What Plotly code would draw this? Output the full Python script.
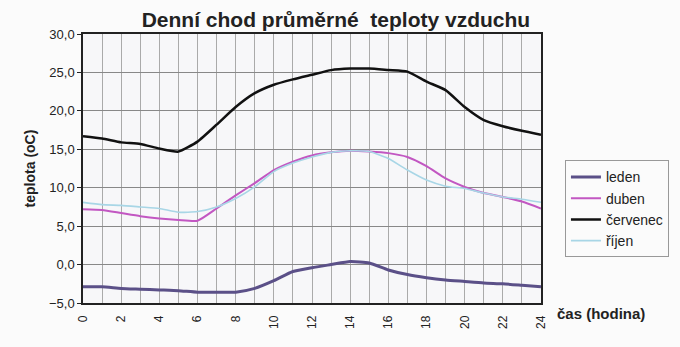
import plotly.graph_objects as go

hours = list(range(0, 25))
leden = [-2.9, -2.9, -3.1, -3.2, -3.3, -3.4, -3.6, -3.6, -3.6, -3.1, -2.1, -0.9, -0.4, 0.0, 0.4, 0.2, -0.7, -1.3, -1.7, -2.0, -2.2, -2.4, -2.5, -2.7, -2.9]
duben = [7.2, 7.1, 6.7, 6.3, 6.0, 5.8, 5.7, 7.3, 9.0, 10.6, 12.3, 13.4, 14.2, 14.6, 14.8, 14.7, 14.5, 14.0, 12.8, 11.2, 10.1, 9.3, 8.8, 8.2, 7.3]
cervenec = [16.7, 16.4, 15.9, 15.7, 15.1, 14.7, 16.0, 18.2, 20.5, 22.3, 23.4, 24.1, 24.7, 25.3, 25.5, 25.5, 25.3, 25.1, 23.8, 22.7, 20.5, 18.8, 18.0, 17.4, 16.9]
rijen = [8.1, 7.8, 7.7, 7.5, 7.3, 6.8, 6.9, 7.5, 8.6, 10.1, 12.1, 13.2, 14.0, 14.6, 14.8, 14.7, 13.8, 12.3, 11.0, 10.2, 9.9, 9.3, 8.8, 8.5, 8.1]

series = [
    ("leden", leden, "#5b5088", 3),
    ("duben", duben, "#c257c2", 2),
    ("červenec", cervenec, "#111111", 2.5),
    ("říjen", rijen, "#a8d6e6", 1.6),
]

fig = go.Figure()
for name, vals, col, w in series:
    fig.add_trace(go.Scatter(x=hours, y=vals, name=name, mode="lines",
                             line=dict(color=col, width=w, shape="spline", smoothing=0.5)))

font = "Liberation Sans, Arial, sans-serif"
fig.update_layout(
    width=680, height=347,
    margin=dict(l=83, r=138, t=34, b=44),
    paper_bgcolor="#fbfbfb", plot_bgcolor="#f7f7f9",
    separators=", ",
    font=dict(family=font, size=12, color="#222"),
    title=dict(text="<b>Denní chod průměrné  teploty vzduchu</b>", x=0.494, xanchor="center",
               y=0.942, yanchor="middle", font=dict(size=21, color="#222")),
    showlegend=True,
    legend=dict(x=1.05, xanchor="left", y=0.53, yanchor="top",
                bordercolor="#999", borderwidth=1, bgcolor="rgba(0,0,0,0)",
                font=dict(size=14, color="#222"), tracegroupgap=0, itemwidth=30),
    xaxis=dict(range=[0, 24], dtick=2, tick0=0, tickangle=-90, showgrid=True,
               gridcolor="#aaa", gridwidth=1, showline=True, linecolor="#222", linewidth=1.5,
               mirror=True, zeroline=False, ticks="", tickfont=dict(size=12),
               ticklabelstandoff=6,
               minor=dict(dtick=1, showgrid=True, gridcolor="#aaa", gridwidth=1)),
    yaxis=dict(range=[-5, 30], dtick=5, tickformat=".1f", showgrid=True,
               gridcolor="#888", gridwidth=1, showline=True, linecolor="#222", linewidth=1.5,
               mirror=True, zeroline=False, ticks="outside", ticklen=4, tickcolor="#222",
               tickfont=dict(size=13),
               title=dict(text="<b>teplota (oC)</b>", font=dict(size=14), standoff=10)),
    annotations=[dict(text="<b>čas (hodina)</b>", xref="paper", yref="paper",
                      x=1.03, y=-0.04, xanchor="left", yanchor="middle", showarrow=False,
                      font=dict(size=15, color="#222"))],
)

fig.write_html("out.html")
